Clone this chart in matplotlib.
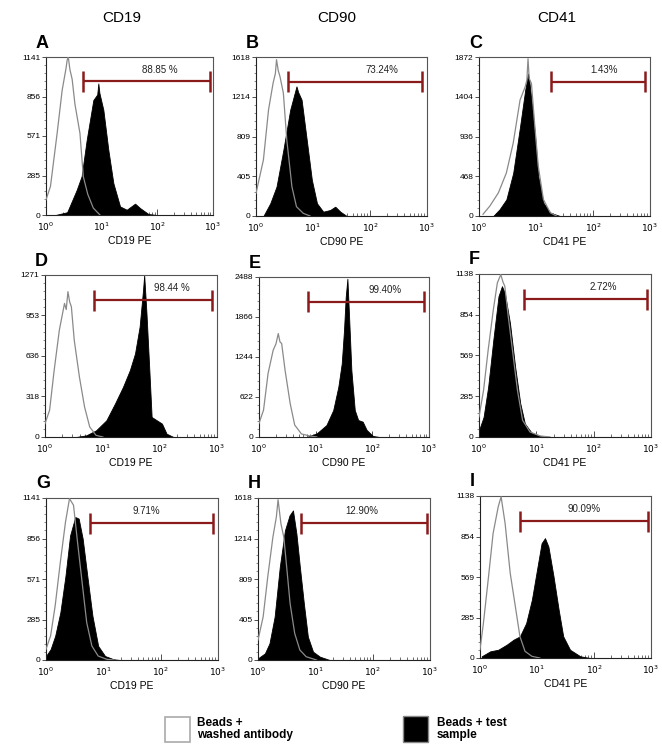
import matplotlib
matplotlib.use("Agg")
import matplotlib.pyplot as plt
import matplotlib.transforms as mtransforms
from matplotlib.ticker import FixedLocator, LogLocator, NullFormatter
import numpy as np

plt.rcParams['font.family'] = ['Liberation Sans', 'DejaVu Sans']

# ---- data (x in log10 units of PE fluorescence, y in counts) ----
col_titles = ["CD19", "CD90", "CD41"]
panel_letters = ["A", "B", "C", "D", "E", "F", "G", "H", "I"]
xlabels = ["CD19 PE", "CD90 PE", "CD41 PE"]
y_max = [1141, 1618, 1872, 1271, 2488, 1138, 1141, 1618, 1138]
y_ticklabels = [
    ["0", "285", "571", "856", "1141"],
    ["0", "405", "809", "1214", "1618"],
    ["0", "468", "936", "1404", "1872"],
    ["0", "318", "636", "953", "1271"],
    ["0", "622", "1244", "1866", "2488"],
    ["0", "285", "569", "854", "1138"],
    ["0", "285", "571", "856", "1141"],
    ["0", "405", "809", "1214", "1618"],
    ["0", "285", "569", "854", "1138"],
]
gate_pct = ["88.85 %", "73.24%", "1.43%", "98.44 %", "99.40%", "2.72%", "9.71%", "12.90%", "90.09%"]
gate_lo = [0.66, 0.57, 1.26, 0.85, 0.87, 0.79, 0.76, 0.75, 0.70]
gate_hi = [2.94, 2.92, 2.92, 2.91, 2.91, 2.93, 2.92, 2.94, 2.94]
gate_text_x = [2.04, 2.21, 2.19, 2.21, 2.22, 2.17, 1.75, 1.81, 1.82]

# control: beads + washed antibody (grey outline)
a_ctrl_x = [0.0, 0.08, 0.2, 0.29, 0.36, 0.38, 0.40, 0.43, 0.47, 0.52, 0.61, 0.67, 0.75, 0.85, 0.97]
a_ctrl_y = [110, 206, 590, 900, 1060, 1118, 1141, 1050, 980, 800, 590, 278, 150, 50, 0]
b_ctrl_x = [0.0, 0.13, 0.22, 0.3, 0.34, 0.36, 0.39, 0.42, 0.48, 0.54, 0.63, 0.71, 0.83, 0.95]
b_ctrl_y = [231, 571, 1081, 1353, 1450, 1591, 1480, 1421, 1251, 775, 299, 95, 27, 0]
c_ctrl_x = [0.07, 0.19, 0.34, 0.48, 0.6, 0.72, 0.81, 0.84, 0.86, 0.88, 0.92, 0.98, 1.04, 1.13, 1.25, 1.36]
c_ctrl_y = [20, 117, 273, 507, 858, 1365, 1521, 1600, 1852, 1620, 1560, 1053, 585, 195, 39, 0]
d_ctrl_x = [0.0, 0.08, 0.16, 0.25, 0.34, 0.37, 0.4, 0.43, 0.46, 0.51, 0.6, 0.69, 0.78, 0.89, 1.01]
d_ctrl_y = [105, 210, 524, 838, 1048, 1000, 1140, 1060, 1022, 760, 472, 236, 79, 13, 0]
e_ctrl_x = [0.0, 0.08, 0.16, 0.25, 0.3, 0.34, 0.37, 0.4, 0.46, 0.55, 0.63, 0.75, 0.9, 1.02]
e_ctrl_y = [212, 419, 988, 1350, 1450, 1608, 1480, 1453, 1039, 522, 186, 47, 16, 0]
f_ctrl_x = [0.0, 0.08, 0.16, 0.25, 0.32, 0.38, 0.42, 0.45, 0.51, 0.59, 0.67, 0.76, 0.89, 1.07, 1.24]
f_ctrl_y = [140, 328, 608, 889, 1076, 1134, 1080, 1053, 842, 585, 328, 117, 35, 7, 0]
g_ctrl_x = [0.0, 0.08, 0.16, 0.25, 0.34, 0.41, 0.48, 0.55, 0.63, 0.71, 0.8, 0.91, 1.06, 1.18]
g_ctrl_y = [76, 170, 382, 689, 972, 1137, 1090, 830, 547, 264, 99, 28, 5, 0]
h_ctrl_x = [0.0, 0.09, 0.17, 0.26, 0.32, 0.35, 0.4, 0.45, 0.5, 0.56, 0.64, 0.73, 0.84, 1.02]
h_ctrl_y = [199, 432, 830, 1228, 1428, 1601, 1361, 1228, 930, 564, 266, 100, 33, 0]
i_ctrl_x = [0.0, 0.06, 0.15, 0.23, 0.32, 0.37, 0.44, 0.53, 0.62, 0.7, 0.79, 0.91, 1.05]
i_ctrl_y = [58, 245, 573, 876, 1063, 1133, 947, 596, 362, 152, 47, 12, 0]

# test: beads + test sample (black fill)
a_test_x = [0.17, 0.38, 0.55, 0.64, 0.73, 0.85, 0.92, 0.94, 0.96, 1.03, 1.12, 1.21, 1.33, 1.45, 1.6, 1.69, 1.84, 1.99]
a_test_y = [0, 20, 180, 280, 540, 830, 870, 950, 880, 760, 470, 230, 62, 38, 82, 50, 7, 0]
b_test_x = [0.13, 0.25, 0.36, 0.48, 0.6, 0.71, 0.74, 0.8, 0.89, 0.98, 1.07, 1.18, 1.3, 1.39, 1.48, 1.59]
b_test_y = [0, 129, 299, 673, 1081, 1319, 1260, 1183, 775, 367, 129, 44, 61, 95, 44, 0]
c_test_x = [0.25, 0.36, 0.48, 0.6, 0.72, 0.81, 0.86, 0.88, 0.92, 0.98, 1.04, 1.13, 1.25, 1.42]
c_test_y = [0, 78, 195, 507, 1053, 1482, 1677, 1600, 1365, 975, 468, 156, 39, 0]
d_test_x = [0.54, 0.72, 0.89, 1.07, 1.22, 1.36, 1.48, 1.57, 1.65, 1.71, 1.73, 1.77, 1.82, 1.86, 1.95, 2.04, 2.12, 2.24]
d_test_y = [0, 13, 52, 131, 262, 393, 524, 655, 865, 1153, 1271, 970, 524, 157, 131, 105, 26, 0]
e_test_x = [0.84, 1.02, 1.19, 1.31, 1.4, 1.46, 1.5, 1.53, 1.56, 1.59, 1.63, 1.69, 1.75, 1.83, 1.9, 2.01, 2.13]
e_test_y = [0, 57, 186, 419, 781, 1143, 1660, 2177, 2461, 1866, 1039, 419, 264, 238, 109, 16, 0]
f_test_x = [0.0, 0.08, 0.16, 0.25, 0.34, 0.4, 0.45, 0.54, 0.63, 0.72, 0.8, 0.92, 1.07, 1.24]
f_test_y = [47, 140, 351, 679, 983, 1053, 1006, 796, 491, 234, 94, 28, 7, 0]
g_test_x = [0.0, 0.08, 0.16, 0.25, 0.34, 0.42, 0.51, 0.57, 0.64, 0.72, 0.81, 0.91, 1.03, 1.18, 1.29]
g_test_y = [28, 76, 170, 335, 594, 877, 1007, 996, 854, 594, 311, 99, 28, 5, 0]
h_test_x = [0.0, 0.12, 0.2, 0.29, 0.38, 0.47, 0.55, 0.61, 0.67, 0.73, 0.8, 0.87, 0.96, 1.08, 1.25]
h_test_y = [17, 66, 166, 432, 930, 1295, 1444, 1494, 1262, 930, 564, 232, 83, 33, 0]
i_test_x = [0.03, 0.18, 0.32, 0.47, 0.59, 0.7, 0.81, 0.91, 1.0, 1.08, 1.14, 1.2, 1.29, 1.38, 1.46, 1.58, 1.76, 1.93]
i_test_y = [12, 47, 58, 94, 129, 152, 245, 409, 620, 806, 842, 783, 573, 339, 152, 58, 12, 0]

ctrl = [(a_ctrl_x, a_ctrl_y), (b_ctrl_x, b_ctrl_y), (c_ctrl_x, c_ctrl_y),
        (d_ctrl_x, d_ctrl_y), (e_ctrl_x, e_ctrl_y), (f_ctrl_x, f_ctrl_y),
        (g_ctrl_x, g_ctrl_y), (h_ctrl_x, h_ctrl_y), (i_ctrl_x, i_ctrl_y)]
test = [(a_test_x, a_test_y), (b_test_x, b_test_y), (c_test_x, c_test_y),
        (d_test_x, d_test_y), (e_test_x, e_test_y), (f_test_x, f_test_y),
        (g_test_x, g_test_y), (h_test_x, h_test_y), (i_test_x, i_test_y)]

# ---- layout in pixels (left, right, top, bottom) ----
W, H = 662, 746
boxes = [(46, 213, 57, 215), (256, 427, 57, 216), (479, 650, 57, 216),
         (45, 217, 275, 437), (259, 429, 277, 437), (479, 651, 274, 437),
         (46, 218, 498, 660), (258, 430, 498, 660), (480, 651, 496, 658)]

gate_col = "#8b1a1a"
frame_col = "#555555"

fig = plt.figure(figsize=(W / 100, H / 100), dpi=100)

for k in range(9):
    l, r, t, b = boxes[k]
    ax = fig.add_axes([l / W, 1 - b / H, (r - l) / W, (b - t) / H])
    ym = y_max[k]

    tx = 10 ** np.array(test[k][0])
    ax.fill_between(tx, 0, test[k][1], color="black", lw=0.6, zorder=2)
    cx = 10 ** np.array(ctrl[k][0])
    ax.plot(cx, ctrl[k][1], color="#8a8a8a", lw=0.9, zorder=3)

    ax.set_xscale("log")
    ax.set_xlim(1, 1000)
    ax.set_ylim(0, ym)
    ax.xaxis.set_major_locator(FixedLocator([1, 10, 100, 1000]))
    ax.xaxis.set_minor_locator(LogLocator(base=10, subs=np.arange(2, 10)))
    ax.xaxis.set_minor_formatter(NullFormatter())
    ax.set_xticklabels([r"$10^0$", r"$10^1$", r"$10^2$", r"$10^3$"])
    ax.set_yticks(np.linspace(0, ym, 5))
    ax.set_yticklabels(y_ticklabels[k])
    ax.yaxis.set_minor_locator(FixedLocator(np.linspace(0, ym, 21)))
    ax.tick_params(axis="x", which="major", direction="in", length=4, width=0.6,
                   labelsize=6.5, pad=4, color="#333333")
    ax.tick_params(axis="x", which="minor", direction="in", length=2, width=0.5,
                   color="#333333")
    ax.tick_params(axis="y", which="major", direction="out", length=3, width=0.6,
                   labelsize=6, pad=1, color="#333333")
    ax.tick_params(axis="y", which="minor", direction="out", length=1.5, width=0.4,
                   color="#333333")
    for s in ax.spines.values():
        s.set_color(frame_col)
        s.set_linewidth(0.8)
    ax.spines["left"].set_color("#222222")
    ax.spines["bottom"].set_color("#222222")

    ax.set_xlabel(xlabels[k % 3], fontsize=7.5, labelpad=2)

    # gate marker
    trans = mtransforms.blended_transform_factory(ax.transData, ax.transAxes)
    gy = 0.845
    x0, x1 = 10 ** gate_lo[k], 10 ** gate_hi[k]
    ax.plot([x0, x1], [gy, gy], color=gate_col, lw=1.6, transform=trans,
            solid_capstyle="butt", zorder=4)
    for xx in (x0, x1):
        ax.plot([xx, xx], [gy - 0.065, gy + 0.065], color=gate_col, lw=1.8,
                transform=trans, solid_capstyle="butt", zorder=4)
    ax.text(10 ** gate_text_x[k], 0.918, gate_pct[k], transform=trans,
            ha="center", va="center", fontsize=7, color="#222222")

    fig.text((l - 10) / W, 1 - (t - 14) / H, panel_letters[k], fontsize=13,
             fontweight="bold", ha="left", va="center")

for j, title in enumerate(col_titles):
    fig.text([122, 337, 557][j] / W, 1 - 18 / H, title, fontsize=11,
             ha="center", va="center")

# legend
lax = fig.add_axes([0, 0, 1, 1], facecolor="none")
lax.set_xlim(0, W)
lax.set_ylim(H, 0)
lax.axis("off")
lax.add_patch(plt.Rectangle((165, 717), 25, 25, facecolor="white",
                            edgecolor="#aaaaaa", lw=1.2))
lax.add_patch(plt.Rectangle((403, 716), 25, 26, facecolor="black",
                            edgecolor="#888888", lw=1.0))
lax.text(197, 729, "Beads +\nwashed antibody", fontsize=8.5, fontweight="bold",
         va="center", ha="left", linespacing=1.1)
lax.text(437, 729, "Beads + test\nsample", fontsize=8.5, fontweight="bold",
         va="center", ha="left", linespacing=1.1)

fig.savefig("out.png", dpi=100)
